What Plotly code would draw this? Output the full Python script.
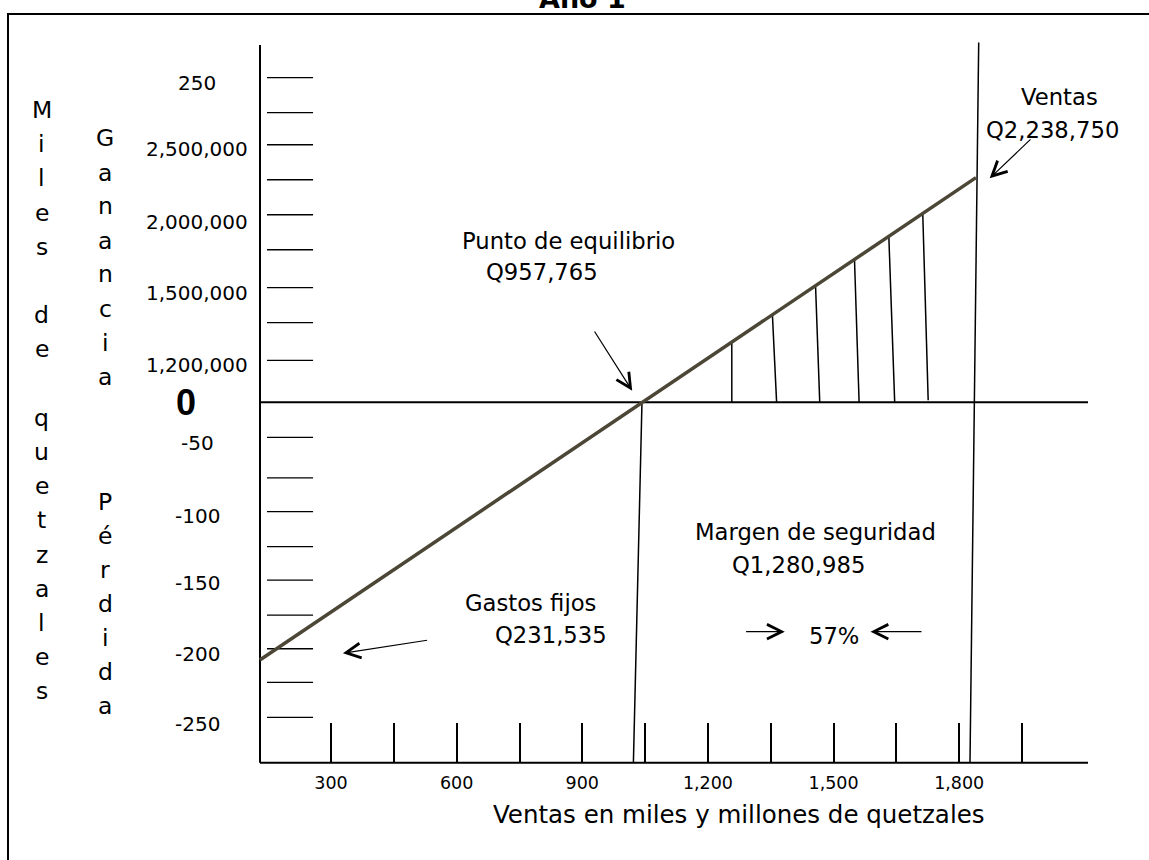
import plotly.graph_objects as go

W, H = 1149, 860

# ---------------- data ----------------
# sales axis (thousands of quetzales): tick marks and their printed labels
ventas_ticks = [300, 450, 600, 750, 900, 1050, 1200, 1350, 1500, 1650, 1800, 1950]
ventas_etiquetas = ["300", "", "600", "", "900", "", "1,200", "", "1,500", "", "1,800", ""]

# short marks of the vertical scale (thousands of quetzales)
marcas_ganancia = [30, 57, 82, 109, 134, 159, 184, 207, 232]
marcas_perdida = [-25, -54, -78, -103, -127, -152, -176, -200, -225]

# vertical scale labels as printed, and the level where each one sits
etiquetas_y = ["250", "2,500,000", "2,000,000", "1,500,000", "1,200,000",
               "-50", "-100", "-150", "-200", "-250"]
niveles_y = [228.4, 180.7, 129.0, 77.9, 26.6, -29.3, -81.2, -129.3, -179.8, -229.8]

# profit / loss line
linea_ventas = [130, 1840]
linea_resultado = [-184, 160.5]

# hatching of the margin of safety
rayas_x_arriba = [1257, 1354, 1457, 1550, 1632, 1713]
rayas_y_arriba = [43.0, 62.4, 83.3, 102.0, 118.6, 134.9]
rayas_x_abajo = [1257, 1364, 1467, 1561, 1646, 1726]
rayas_y_abajo = [0, 0, 0, 0, 0, 1.5]

# break-even vertical and sales vertical
equilibrio_x = [1042.5, 1022]
equilibrio_y = [0, -257.5]
ventas_x = [1846.6, 1825.8]
ventas_y = [257, -257.5]

# frame of the chart
eje_x = [130.3, 2107.6]
eje_y = [-257.5, 255.2]
marca_x = [147, 257]

# ---------------- figure ----------------
X_RANGE = [-490.6, 2253.3]
Y_RANGE = [-326.9, 287.4]
NEGRO = "black"
FUENTE = "DejaVu Sans"


def px(x):
    return x / W


def py(y):
    return 1 - y / H


def segmentos(xs0, ys0, xs1, ys1):
    xs, ys = [], []
    for a, b, c, d in zip(xs0, ys0, xs1, ys1):
        xs += [a, c, None]
        ys += [b, d, None]
    return xs, ys


fig = go.Figure()

# frame: left axis, zero line, bottom axis
fx, fy = segmentos([eje_x[0], eje_x[0], eje_x[0]], [eje_y[0], 0, eje_y[0]],
                   [eje_x[0], eje_x[1], eje_x[1]], [eje_y[1], 0, eje_y[0]])
fig.add_trace(go.Scatter(x=fx, y=fy, mode="lines", line=dict(color=NEGRO, width=2),
                         hoverinfo="skip", showlegend=False))

# short marks on the vertical scale
niveles = marcas_ganancia + marcas_perdida
mx, my = segmentos([marca_x[0]] * len(niveles), niveles, [marca_x[1]] * len(niveles), niveles)
fig.add_trace(go.Scatter(x=mx, y=my, mode="lines", line=dict(color=NEGRO, width=1.3),
                         hoverinfo="skip", showlegend=False))

# hatching
hx, hy = segmentos(rayas_x_arriba, rayas_y_arriba, rayas_x_abajo, rayas_y_abajo)
fig.add_trace(go.Scatter(x=hx, y=hy, mode="lines", line=dict(color=NEGRO, width=1.5),
                         hoverinfo="skip", showlegend=False))

# verticals
vx, vy = segmentos([equilibrio_x[0], ventas_x[0]], [equilibrio_y[0], ventas_y[0]],
                   [equilibrio_x[1], ventas_x[1]], [equilibrio_y[1], ventas_y[1]])
fig.add_trace(go.Scatter(x=vx, y=vy, mode="lines", line=dict(color=NEGRO, width=1.5),
                         hoverinfo="skip", showlegend=False))

# profit line
fig.add_trace(go.Scatter(x=linea_ventas, y=linea_resultado, mode="lines",
                         line=dict(color="#4b4636", width=3.5),
                         hoverinfo="skip", showlegend=False))

ann = []


def texto(t, x, y, size=22.7, family=FUENTE, weight="normal", yref="paper", xanchor="center"):
    ann.append(dict(text=t, x=px(x), y=(py(y) if yref == "paper" else y), xref="paper", yref=yref,
                    showarrow=False, xanchor=xanchor, yanchor="middle",
                    font=dict(family=family, size=size, color=NEGRO, weight=weight)))


def flecha(x_tip, y_tip, x_tail, y_tail):
    ann.append(dict(text="", x=px(x_tip), y=py(y_tip), xref="paper", yref="paper",
                    showarrow=True, ax=x_tail - x_tip, ay=y_tail - y_tip,
                    arrowhead=5, arrowsize=2.4, arrowwidth=1.2, arrowcolor=NEGRO,
                    standoff=0, startstandoff=0))


# title (cut by the top edge, as in the reference)
texto("Año 1", 582, -1.5, size=27, weight="bold")

# vertical-scale labels
for t, v in zip(etiquetas_y, niveles_y):
    texto(t, 197, v, size=20, yref="y")
texto("0", 186, 0, size=36, family="Liberation Sans, Arial", weight="bold", yref="y")


# vertical words written letter by letter
def columna(palabra, x, y0, paso):
    for i, ch in enumerate(palabra):
        if ch != " ":
            texto(ch, x, y0 + i * paso, size=23.5)


columna("Miles de quetzales", 41.7, 110, 34.2)
columna("Ganancia", 105, 138.5, 34)
columna("Pérdida", 105, 502, 34)

# annotations
texto("Punto de equilibrio", 568, 241.3)
texto("Q957,765", 542, 271.7)
flecha(632.2, 390.7, 593.6, 330)

texto("Ventas", 1059, 97.5)
texto("Q2,238,750", 1052, 130)
flecha(989.7, 178.3, 1032, 138)

texto("Margen de seguridad", 815.8, 531.7)
texto("Q1,280,985", 798.8, 565)
texto("57%", 833.5, 636)
flecha(784.8, 631.7, 744.6, 631.7)
flecha(870.5, 631.7, 923, 631.7)

texto("Gastos fijos", 530, 603.3)
texto("Q231,535", 551, 634.7)
flecha(342.9, 653.3, 428.6, 640)

texto("Ventas en miles y millones de quetzales", 739, 814.7, size=24.5)

# outer frame (left and top borders)
shapes = [
    dict(type="line", xref="paper", yref="paper", x0=px(8), x1=px(8), y0=py(14), y1=py(862),
         line=dict(color=NEGRO, width=2)),
    dict(type="line", xref="paper", yref="paper", x0=px(7), x1=px(1152), y0=py(14), y1=py(14),
         line=dict(color=NEGRO, width=2)),
]

fig.update_layout(
    width=W, height=H,
    margin=dict(l=0, r=0, t=0, b=0, autoexpand=False),
    paper_bgcolor="white", plot_bgcolor="white",
    showlegend=False,
    annotations=ann, shapes=shapes,
    xaxis=dict(range=X_RANGE, anchor="free", position=py(762.5), showgrid=False,
               zeroline=False, showline=False, ticks="inside", ticklen=40, tickwidth=1.7,
               tickcolor=NEGRO, tickmode="array", tickvals=ventas_ticks, ticktext=ventas_etiquetas,
               tickfont=dict(family=FUENTE, size=17.5, color=NEGRO), ticklabelstandoff=8,
               automargin=False, fixedrange=True),
    yaxis=dict(range=Y_RANGE, visible=False, showgrid=False, zeroline=False,
               automargin=False, fixedrange=True),
)

fig.write_html("out.html", config=dict(displayModeBar=False),
               post_script="document.body.style.margin='0px';document.body.style.overflow='hidden';")
